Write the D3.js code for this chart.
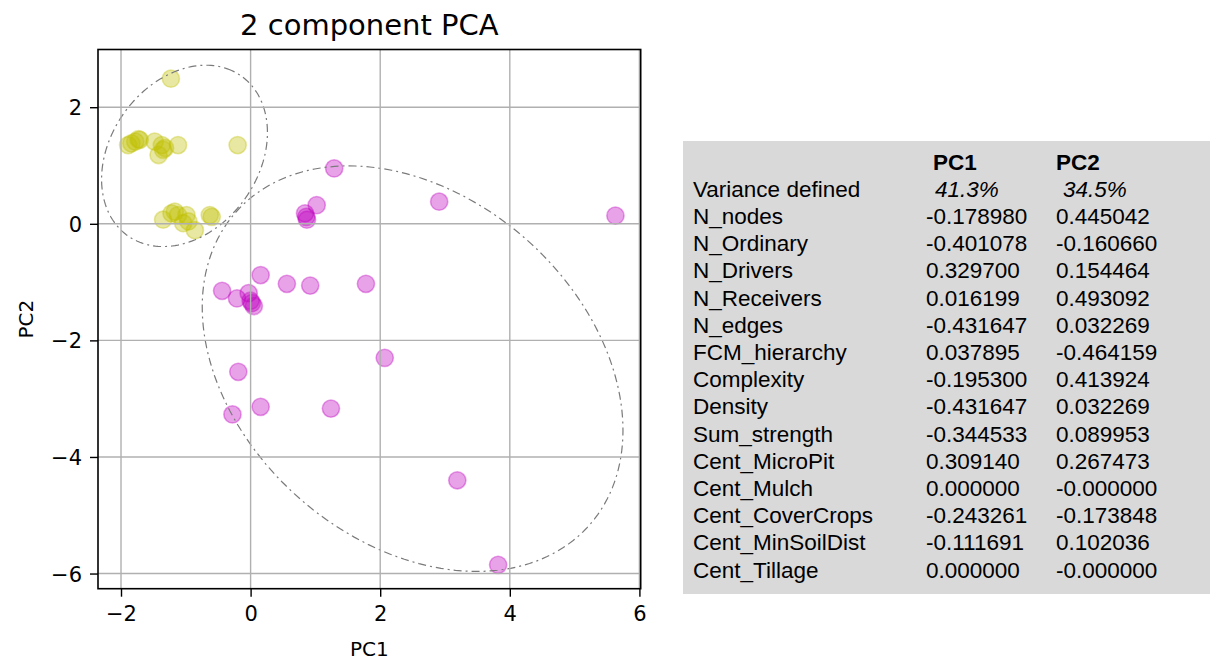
<!DOCTYPE html>
<html>
<head>
<meta charset="utf-8">
<script src="https://cdn.jsdelivr.net/npm/d3@7"></script>
<style>
  html, body { margin: 0; padding: 0; background: #fff; }
  svg { display: block; }
</style>
</head>
<body>
<div id="chart"></div>
<script>
// scatter points
const groupA_x = [-1.23, -1.89, -1.84, -1.78, -1.73, -1.71, -1.48, -1.37, -1.42, -1.35, -1.32, -1.12, -0.20,
                  -1.35, -1.22, -1.17, -1.12, -0.99, -1.04, -0.96, -0.86, -0.63, -0.60];
const groupA_y = [2.49, 1.35, 1.38, 1.41, 1.45, 1.44, 1.41, 1.35, 1.18, 1.27, 1.30, 1.35, 1.35,
                  0.07, 0.18, 0.21, 0.15, 0.15, 0.01, 0.04, -0.11, 0.15, 0.12];
const groupB_x = [1.29, 2.91, 1.02, 0.84, 0.87, 0.86, 5.63, 0.155, -0.44, -0.21, -0.03, 0.02, 0.05, 0.0,
                  0.56, 0.92, 1.78, 2.07, -0.19, 0.155, -0.28, 1.24, 3.19, 3.82];
const groupB_y = [0.95, 0.38, 0.32, 0.18, 0.07, 0.12, 0.14, -0.88, -1.15, -1.28, -1.19, -1.36, -1.41, -1.32,
                  -1.03, -1.06, -1.03, -2.30, -2.54, -3.14, -3.27, -3.17, -4.40, -5.85];

// ellipses: [centre x, centre y, semi-major, semi-minor, angle deg]
const ellipseA = [-1.02, 1.165, 1.635, 1.176, 63.6];
const ellipseB = [2.50, -2.485, 3.852, 2.793, -51.4];

const xTicks = [-2, 0, 2, 4, 6];
const yTicks = [-6, -4, -2, 0, 2];

// loadings table
const rowNames = ["N_nodes", "N_Ordinary", "N_Drivers", "N_Receivers", "N_edges", "FCM_hierarchy",
                  "Complexity", "Density", "Sum_strength", "Cent_MicroPit", "Cent_Mulch",
                  "Cent_CoverCrops", "Cent_MinSoilDist", "Cent_Tillage"];
const pc1Values = ["-0.178980", "-0.401078", "0.329700", "0.016199", "-0.431647", "0.037895",
                   "-0.195300", "-0.431647", "-0.344533", "0.309140", "0.000000",
                   "-0.243261", "-0.111691", "0.000000"];
const pc2Values = ["0.445042", "-0.160660", "0.154464", "0.493092", "0.032269", "-0.464159",
                   "0.413924", "0.032269", "0.089953", "0.267473", "-0.000000",
                   "-0.173848", "0.102036", "-0.000000"];
const varianceLabels = ["41.3%", "34.5%"];

const W = 1210, H = 661;
const svg = d3.select("#chart").append("svg")
    .attr("width", W)
    .attr("height", H)
    .style("font-family", "'DejaVu Sans', sans-serif");

svg.append("rect").attr("width", W).attr("height", H).attr("fill", "#fff");

const plot = { left: 98, right: 640.7, top: 49.5, bottom: 588.7 };

const x = d3.scaleLinear().domain([-2.355, 6.02]).range([plot.left, plot.right]);
const y = d3.scaleLinear().domain([-6.26, 2.99]).range([plot.bottom, plot.top]);

const fmt = d => (d < 0 ? "\u2212" + Math.abs(d) : "" + d);

// points
const drawGroup = (xs, ys, color) => {
    svg.append("g")
        .selectAll("circle")
        .data(xs.map((v, i) => [v, ys[i]]))
        .join("circle")
        .attr("cx", d => x(d[0]))
        .attr("cy", d => y(d[1]))
        .attr("r", 8.6)
        .attr("fill", color)
        .attr("fill-opacity", 0.36)
        .attr("stroke", color)
        .attr("stroke-opacity", 0.36)
        .attr("stroke-width", 1.6);
};
drawGroup(groupA_x, groupA_y, "#bfbf00");
drawGroup(groupB_x, groupB_y, "#bf00bf");

// ellipses in data space
const ellipseLine = d3.line().x(p => x(p[0])).y(p => y(p[1]));
const ellipsePoints = ([cx, cy, a, b, deg]) => {
    const th = deg * Math.PI / 180;
    return d3.range(0, 361, 2).map(t => {
        const phi = t * Math.PI / 180;
        const u = a * Math.cos(phi), v = b * Math.sin(phi);
        return [cx + u * Math.cos(th) - v * Math.sin(th), cy + u * Math.sin(th) + v * Math.cos(th)];
    });
};
[ellipseA, ellipseB].forEach(e => {
    svg.append("path")
        .attr("d", ellipseLine(ellipsePoints(e)))
        .attr("fill", "none")
        .attr("stroke", "#7a7a7a")
        .attr("stroke-width", 1.2)
        .attr("stroke-dasharray", "8,4,2,4");
});

// grid (drawn over the markers, like matplotlib)
const grid = svg.append("g").attr("stroke", "#b0b0b0").attr("stroke-width", 1.4);
grid.selectAll("line.gx").data(xTicks).join("line")
    .attr("class", "gx")
    .attr("x1", d => x(d)).attr("x2", d => x(d))
    .attr("y1", plot.top).attr("y2", plot.bottom);
grid.selectAll("line.gy").data(yTicks).join("line")
    .attr("class", "gy")
    .attr("x1", plot.left).attr("x2", plot.right)
    .attr("y1", d => y(d)).attr("y2", d => y(d));

// axes
svg.append("g")
    .attr("transform", `translate(0,${plot.bottom})`)
    .call(d3.axisBottom(x).tickValues(xTicks).tickFormat(fmt).tickSize(8).tickPadding(9))
    .call(g => g.select(".domain").remove())
    .call(g => g.selectAll(".tick line").attr("stroke", "#000").attr("stroke-width", 1.4))
    .call(g => g.selectAll(".tick text")
        .attr("fill", "#000")
        .style("font-family", "'DejaVu Sans', sans-serif")
        .style("font-size", "21px"));

svg.append("g")
    .attr("transform", `translate(${plot.left},0)`)
    .call(d3.axisLeft(y).tickValues(yTicks).tickFormat(fmt).tickSize(8).tickPadding(8))
    .call(g => g.select(".domain").remove())
    .call(g => g.selectAll(".tick line").attr("stroke", "#000").attr("stroke-width", 1.4))
    .call(g => g.selectAll(".tick text")
        .attr("fill", "#000")
        .attr("dy", "0.36em")
        .style("font-family", "'DejaVu Sans', sans-serif")
        .style("font-size", "21px"));

// frame
svg.append("rect")
    .attr("x", plot.left).attr("y", plot.top)
    .attr("width", plot.right - plot.left).attr("height", plot.bottom - plot.top)
    .attr("fill", "none").attr("stroke", "#000").attr("stroke-width", 1.6);

// labels
const midX = (plot.left + plot.right) / 2;
svg.append("text")
    .attr("x", midX).attr("y", 35)
    .attr("text-anchor", "middle")
    .style("font-size", "29px")
    .text("2 component PCA");

svg.append("text")
    .attr("x", midX).attr("y", 656)
    .attr("text-anchor", "middle")
    .style("font-size", "20px")
    .text("PC1");

svg.append("text")
    .attr("transform", `translate(33,${(plot.top + plot.bottom) / 2}) rotate(-90)`)
    .attr("text-anchor", "middle")
    .style("font-size", "20px")
    .text("PC2");

// loadings table
const table = svg.append("g")
    .style("font-family", "'Liberation Sans', Arial, sans-serif")
    .style("font-size", "22.5px")
    .attr("fill", "#000");

table.append("rect")
    .attr("x", 683).attr("y", 141)
    .attr("width", W - 683).attr("height", 453)
    .attr("fill", "#d9d9d9");

const rowY = i => 169.5 + 27.2 * i;
const col = { name: 693, pc1: 926, pc2: 1056 };

table.append("text").attr("x", 933).attr("y", rowY(0))
    .style("font-weight", "bold").text("PC1");
table.append("text").attr("x", 1056).attr("y", rowY(0))
    .style("font-weight", "bold").text("PC2");

table.append("text").attr("x", col.name).attr("y", rowY(1)).text("Variance defined");
table.append("text").attr("x", 935).attr("y", rowY(1))
    .style("font-style", "italic").text(varianceLabels[0]);
table.append("text").attr("x", 1063).attr("y", rowY(1))
    .style("font-style", "italic").text(varianceLabels[1]);

const rows = table.selectAll("g.row")
    .data(rowNames.map((n, i) => ({ name: n, pc1: pc1Values[i], pc2: pc2Values[i], i })))
    .join("g")
    .attr("class", "row");
rows.append("text").attr("x", col.name).attr("y", d => rowY(d.i + 2)).text(d => d.name);
rows.append("text").attr("x", col.pc1).attr("y", d => rowY(d.i + 2)).text(d => d.pc1);
rows.append("text").attr("x", col.pc2).attr("y", d => rowY(d.i + 2)).text(d => d.pc2);
</script>
</body>
</html>
